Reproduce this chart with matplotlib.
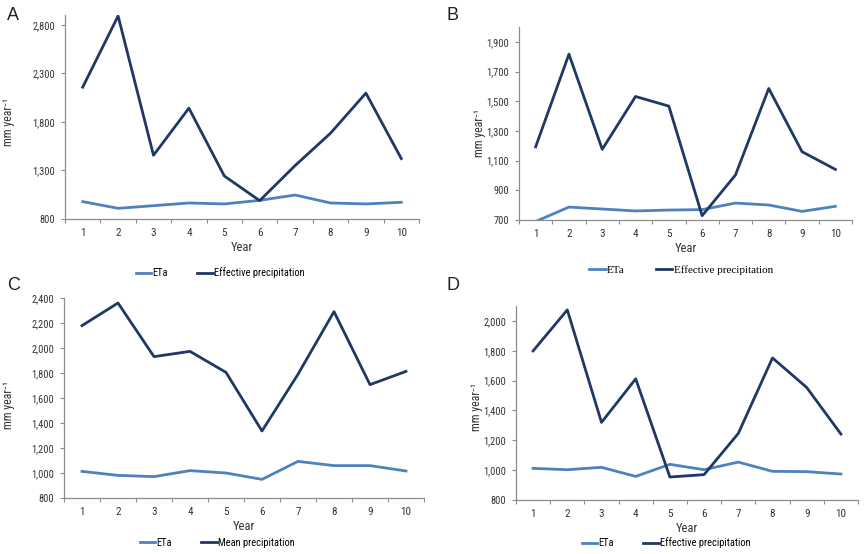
import matplotlib
matplotlib.use("Agg")
import matplotlib.pyplot as plt
from matplotlib.ticker import FuncFormatter, FixedLocator

NARROW = ['Roboto Condensed', 'PT Sans Narrow', 'Liberation Sans', 'DejaVu Sans']
SERIF = ['Liberation Serif', 'DejaVu Serif']
plt.rcParams['font.family'] = NARROW

years = list(range(1, 11))

# Panel A
eta_a = [979, 910, 937, 965, 955, 992, 1047, 965, 955, 972]
prec_a = [2157, 2890, 1456, 1941, 1243, 989, 1350, 1683, 2096, 1422]
# Panel B
eta_b = [690, 787, 774, 761, 767, 770, 814, 801, 758, 792]
prec_b = [1193, 1817, 1176, 1532, 1467, 729, 1003, 1586, 1160, 1041]
# Panel C
eta_c = [1013, 981, 971, 1019, 1000, 949, 1093, 1059, 1059, 1016]
prec_c = [2179, 2360, 1931, 1973, 1805, 1336, 1790, 2291, 1707, 1813]
# Panel D
eta_d = [1012, 1003, 1019, 958, 1039, 1003, 1054, 992, 990, 974]
prec_d = [1799, 2074, 1320, 1612, 954, 970, 1246, 1752, 1554, 1242]

C_ETA = '#4f81bd'
C_PREC = '#1f3864'
GREY = '#8c8c8c'
TXT = '#333333'

W, H = 868, 554
fig = plt.figure(figsize=(W / 100, H / 100), dpi=100)
fig.patch.set_facecolor('white')


def px_axes(left, top, right, bottom):
    return fig.add_axes([left / W, 1 - bottom / H, (right - left) / W, (bottom - top) / H])


def setup(ax, ymin, ymax, ystep, ytop, ylab_xy):
    ax.set_xlim(0.5, 10.5)
    ax.set_ylim(ymin, ytop)
    ax.yaxis.set_major_locator(FixedLocator(list(range(ymin, ymax + 1, ystep))))
    ax.yaxis.set_major_formatter(FuncFormatter(lambda v, p: f"{int(v):,}"))
    ax.set_xticks(years)
    ax.set_xticks([x + 0.5 for x in range(0, 11)], minor=True)
    ax.tick_params(axis='x', which='major', length=0, pad=6.5, labelsize=8, labelcolor=TXT)
    ax.tick_params(axis='x', which='minor', length=3, direction='out', color=GREY, width=0.8)
    ax.tick_params(axis='y', which='major', length=3, direction='out', color=GREY, width=0.8,
                   labelsize=7.5, labelcolor=TXT, pad=4)
    for s in ['top', 'right']:
        ax.spines[s].set_visible(False)
    for s in ['left', 'bottom']:
        ax.spines[s].set_color(GREY)
        ax.spines[s].set_linewidth(0.9)
    ax.set_xlabel('Year', fontsize=9, color=TXT, labelpad=2)
    ax.set_ylabel('mm year\u207b\u00b9', fontsize=8.5, color=TXT)
    ax.yaxis.set_label_coords(*ylab_xy)


def draw(ax, eta, prec):
    ax.plot(years, eta, color=C_ETA, lw=2.0)
    ax.plot(years, prec, color=C_PREC, lw=2.0)


def legend(cx, cy, label2, serif=False):
    h1, = plt.plot([], [], color=C_ETA, lw=2.0)
    h2, = plt.plot([], [], color=C_PREC, lw=2.0)
    props = {'size': 8 if serif else 7.5, 'family': SERIF if serif else NARROW}
    fig.legend([h1, h2], ['ETa', label2], loc='center', bbox_to_anchor=(cx / W, 1 - cy / H),
               ncol=2, frameon=False, handlelength=1.5, handletextpad=0.1, columnspacing=2.8,
               prop=props)


ax_a = px_axes(65, 15, 419, 219)
setup(ax_a, 800, 2800, 500, 2900, (-0.141, 0.475))
draw(ax_a, eta_a, prec_a)

ax_b = px_axes(519, 27, 852, 220)
setup(ax_b, 700, 1900, 200, 2000, (-0.099, 0.45))
draw(ax_b, eta_b, prec_b)

ax_c = px_axes(64, 298, 424, 498)
setup(ax_c, 800, 2400, 200, 2400, (-0.136, 0.465))
draw(ax_c, eta_c, prec_c)

ax_d = px_axes(516, 306, 858, 500)
setup(ax_d, 800, 2000, 200, 2100, (-0.096, 0.48))
draw(ax_d, eta_d, prec_d)

legend(220, 273, 'Effective precipitation')
legend(681, 270, 'Effective precipitation', serif=True)
legend(217, 543, 'Mean precipitation')
legend(666, 543, 'Effective precipitation')

for lab, x, y in [('A', 7, 15), ('B', 446, 16), ('C', 7, 285), ('D', 446, 286)]:
    fig.text(x / W, 1 - y / H, lab, fontsize=13, ha='left', va='center', color='#222222',
             family=['Liberation Sans', 'DejaVu Sans'])

fig.savefig('out.png', dpi=100, facecolor='white')
